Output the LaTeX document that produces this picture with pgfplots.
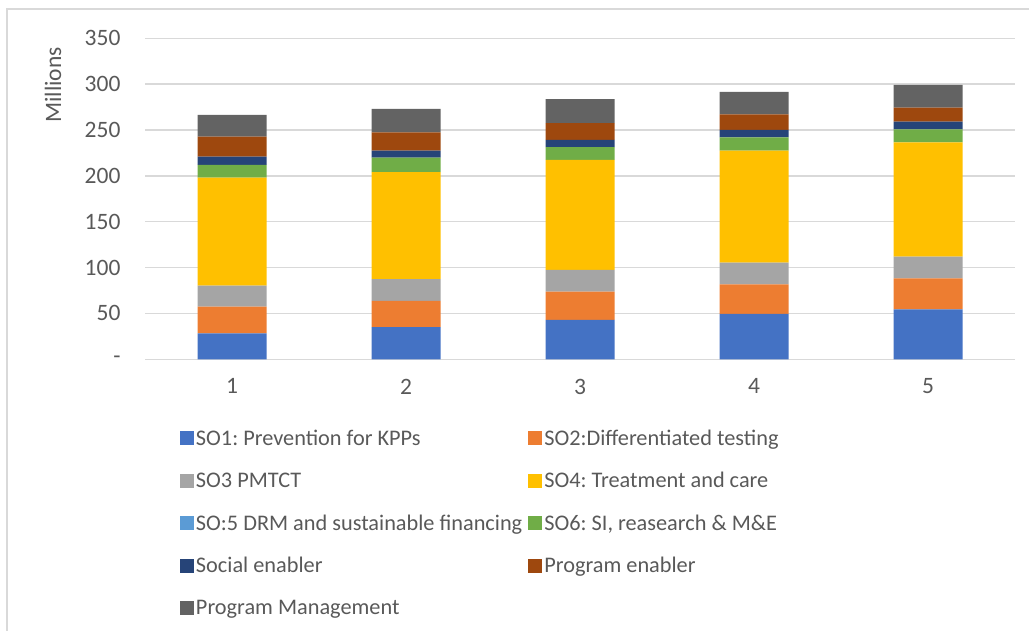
\documentclass[border=0pt]{standalone}
\usepackage{fontspec}
\setmainfont{Carlito}
\usepackage{pgfplots}
\pgfplotsset{compat=1.18}
\definecolor{cSOa}{HTML}{4472C4}
\definecolor{cSOb}{HTML}{ED7D31}
\definecolor{cSOc}{HTML}{A5A5A5}
\definecolor{cSOd}{HTML}{FFC000}
\definecolor{cSOe}{HTML}{5B9BD5}
\definecolor{cSOf}{HTML}{70AD47}
\definecolor{cSoc}{HTML}{264478}
\definecolor{cPen}{HTML}{9E480E}
\definecolor{cPM}{HTML}{636363}
\definecolor{txt}{HTML}{595959}
\definecolor{grd}{HTML}{D9D9D9}
\frenchspacing
\begin{document}
\frenchspacing
\begin{tikzpicture}[font=\fontsize{23.5}{28}\selectfont, x=1pt, y=1pt]
\useasboundingbox (0,0) rectangle (1029,630);
\draw[grd, line width=1.2pt] (7,-5) -- (7,621) -- (1040,621);
\node[rotate=90, text=txt] at (53,545) {Millions};
\begin{axis}[
  at={(145pt,270.7pt)}, anchor=south west,
  scale only axis, width=870pt, height=321pt,
  ybar stacked, bar width=69pt,
  xmin=0.5, xmax=5.5, ymin=0, ymax=350,
  xtick={1,2,3,4,5}, xticklabels={1,2,3,4,5},
  ytick={0,50,100,150,200,250,300,350},
  yticklabels={{-\hspace{14pt}},50,100,150,200,250,300,350},
  /pgf/number format/assume math mode=true,
  axis line style={draw=none},
  ymajorgrids, grid style={grd, line width=1.4pt},
  major tick length=0pt,
  tick label style={text=txt},
  yticklabel style={xshift=-21pt},
  xticklabel style={yshift=-16pt},
  legend columns=2,
  legend cell align=left,
  legend image code/.code={\fill[#1] (0pt,-7pt) rectangle (14pt,7pt);},
  legend style={draw=none, fill=none, at={(0.0402,-0.214)}, anchor=north west,
    inner sep=0pt, outer sep=0pt, text=txt, row sep=21.5pt,
    font=\fontsize{22.3}{26}\selectfont,
    /tikz/every even column/.append style={column sep=4pt},
    nodes={inner sep=2pt}},
  clip=false,
]
\addplot[fill=cSOa, draw=none] coordinates {(1,28.4) (2,35) (3,43) (4,49.4) (5,54.5)};
\addlegendentry{SO1: Prevention for KPPs}
\addplot[fill=cSOb, draw=none] coordinates {(1,29) (2,28.7) (3,30.9) (4,32.4) (5,33.8)};
\addlegendentry{SO2:Differentiated testing}
\addplot[fill=cSOc, draw=none] coordinates {(1,22.9) (2,23.6) (3,23.6) (4,23.6) (5,23.6)};
\addlegendentry{SO3 PMTCT}
\addplot[fill=cSOd, draw=none] coordinates {(1,117.8) (2,116.7) (3,120) (4,122.1) (5,124.7)};
\addlegendentry{SO4: Treatment and care}
\addplot[fill=cSOe, draw=none] coordinates {(1,0) (2,0) (3,0) (4,0) (5,0)};
\addlegendentry{SO:5 DRM and sustainable financing}
\addplot[fill=cSOf, draw=none] coordinates {(1,13.8) (2,16) (3,13.8) (4,14.6) (5,14.2)};
\addlegendentry{SO6: SI, reasearch \& M\&E}
\addplot[fill=cSoc, draw=none] coordinates {(1,9.1) (2,7.6) (3,8) (4,8) (5,8.3)};
\addlegendentry{Social enabler}
\addplot[fill=cPen, draw=none] coordinates {(1,21.8) (2,19.7) (3,18.1) (4,17) (5,15.3)};
\addlegendentry{Program enabler}
\addplot[fill=cPM, draw=none] coordinates {(1,23.6) (2,25.8) (3,26.2) (4,24.4) (5,24.7)};
\addlegendentry{Program Management}
\end{axis}
\end{tikzpicture}
\end{document}
